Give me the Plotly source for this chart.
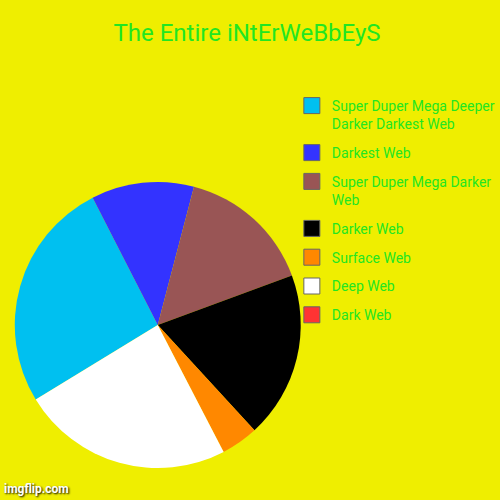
import plotly.graph_objects as go

# Dados do gráfico (ordem da legenda = ordem das fatias, sentido horário)
labels = [
    "Super Duper Mega Deeper<br>Darker Darkest Web",
    "Darkest Web",
    "Super Duper Mega Darker<br>Web",
    "Darker Web",
    "Surface Web",
    "Deep Web",
    "Dark Web",
]
values = [26.2, 11.6, 15.3, 18.8, 4.2, 23.9, 0]
colors = ["#00c0f0", "#3333ff", "#995555", "#000000", "#ff8800", "#ffffff", "#ff3333"]

BG = "#efee00"
GREEN = "#22e622"

fig = go.Figure()

fig.add_trace(
    go.Pie(
        labels=labels,
        values=values,
        marker=dict(colors=colors, line=dict(width=0)),
        sort=False,
        direction="clockwise",
        rotation=238.6,
        textinfo="none",
        hoverinfo="label+percent",
        showlegend=False,
        domain=dict(x=[0.03, 0.61], y=[0.06, 0.64]),
    )
)

# Legenda: uma entrada por fatia (traços vazios, um grupo cada para ter espaçamento)
for i, (lab, col) in enumerate(zip(labels, colors)):
    fig.add_trace(
        go.Scatter(
            x=[None],
            y=[None],
            mode="markers",
            name=lab,
            legendgroup=f"g{i}",
            marker=dict(symbol="square", size=16, color=col, line=dict(color="#666666", width=1)),
            hoverinfo="skip",
        )
    )

fig.update_layout(
    width=500,
    height=500,
    paper_bgcolor=BG,
    plot_bgcolor="rgba(0,0,0,0)",
    margin=dict(l=0, r=0, t=0, b=0),
    font=dict(family="Roboto", color=GREEN, size=14),
    xaxis=dict(visible=False),
    yaxis=dict(visible=False),
    title=dict(
        text="The Entire iNtErWeBbEyS",
        x=0.494,
        xanchor="center",
        y=0.934,
        yanchor="middle",
        font=dict(size=24, color=GREEN),
    ),
    legend=dict(
        x=0.592,
        y=0.82,
        xanchor="left",
        yanchor="top",
        traceorder="grouped",
        tracegroupgap=7.6,
        valign="top",
        bgcolor="rgba(0,0,0,0)",
        font=dict(size=14, color=GREEN),
    ),
    annotations=[
        dict(
            text="<b>imgflip.com</b>",
            x=0.004,
            y=0.004,
            xref="paper",
            yref="paper",
            xanchor="left",
            yanchor="bottom",
            showarrow=False,
            font=dict(size=12, color="#ffffff", family="Roboto", shadow="1px 1px 2px #000000"),
        )
    ],
)

fig.write_html(
    "out.html",
    config={"displayModeBar": False},
    post_script="document.body.style.margin='0';",
)
